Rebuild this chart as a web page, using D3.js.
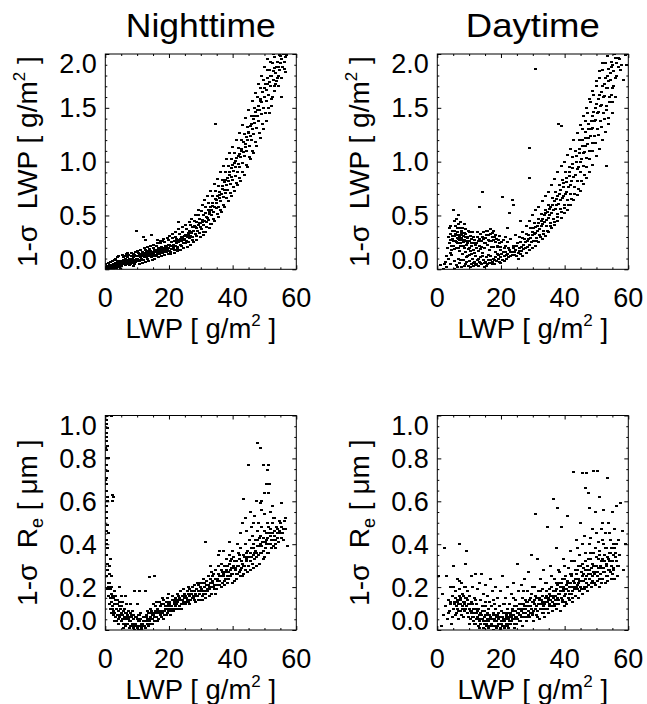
<!DOCTYPE html>
<html><head><meta charset="utf-8">
<script src="https://cdn.jsdelivr.net/npm/d3@7"></script>
<style>
body{margin:0;background:#fff}
svg{display:block}
text{font-family:"Liberation Sans",Arial,Helvetica,sans-serif;fill:#000}
</style></head><body>
<svg id="c" width="647" height="704"></svg>
<script>
// ---- data (x = LWP [g/m2], y = 1-sigma uncertainty) ----
const xTicks = [0, 20, 40, 60];
const lwpTicks = [0.0, 0.5, 1.0, 1.5, 2.0];
const reTicks = [0.0, 0.2, 0.4, 0.6, 0.8, 1.0];
const titles = ["Nighttime", "Daytime"];

const nightLwpPts = [
[0.3,0.0],[0.5,0.02],[0.8,-0.01],[1.0,0.01],[1.2,0.03],[1.5,0.0],[1.7,0.02],[2.0,0.04],[2.2,0.01],[2.4,0.03],[2.7,0.05],[2.9,0.02],[3.1,0.04],[3.3,0.06],[3.6,0.03],[3.8,0.05],[4.0,0.07],[4.2,0.04],[4.5,0.06],[4.7,0.08],[4.9,0.05],
[5.1,0.07],[5.3,0.05],[5.6,0.09],[5.8,0.06],[6.0,0.08],[6.2,0.1],[6.5,0.07],[6.7,0.09],[7.0,0.11],[7.2,0.08],[7.5,0.1],[7.7,0.07],[8.0,0.09],[8.2,0.12],[8.5,0.1],[8.7,0.08],[9.0,0.11],[9.3,0.13],[9.5,0.09],[9.8,0.12],[9.9,0.36],
[10.0,0.1],[10.3,0.12],[10.5,0.09],[10.8,0.13],[11.0,0.11],[11.3,0.14],[11.5,0.1],[11.8,0.12],[12.0,0.15],[12.3,0.11],[12.5,0.13],[12.8,0.16],[13.0,0.12],[13.3,0.14],[13.5,0.17],[13.8,0.13],[14.0,0.15],[14.3,0.12],[14.5,0.16],[14.8,0.14],[11.9,0.3],[14.6,0.32],[12.5,0.27],
[15.0,0.15],[15.3,0.17],[15.5,0.13],[15.8,0.16],[16.0,0.18],[16.3,0.15],[16.5,0.17],[16.8,0.2],[17.0,0.16],[17.3,0.18],[17.5,0.21],[17.8,0.17],[18.0,0.19],[18.3,0.16],[18.5,0.2],[18.8,0.22],[19.0,0.18],[19.3,0.21],[19.5,0.19],[19.8,0.23],[16.5,0.27],[18.0,0.26],
[20.0,0.2],[20.3,0.17],[20.5,0.22],[20.8,0.25],[21.0,0.19],[21.3,0.23],[21.5,0.21],[21.8,0.26],[22.0,0.22],[22.3,0.24],[22.5,0.28],[22.8,0.21],[23.0,0.25],[23.3,0.27],[23.5,0.23],[23.8,0.3],[24.0,0.26],[24.3,0.29],[24.5,0.24],[24.8,0.31],[22.9,0.44],
[25.0,0.28],[25.3,0.32],[25.5,0.26],[25.8,0.3],[26.0,0.34],[26.3,0.29],[26.5,0.36],[26.8,0.31],[27.0,0.34],[27.3,0.39],[27.5,0.3],[27.8,0.36],[28.0,0.4],[28.3,0.33],[28.5,0.38],[28.8,0.44],[29.0,0.36],[29.3,0.41],[29.5,0.47],[29.8,0.39],
[30.0,0.43],[30.3,0.37],[30.5,0.46],[30.8,0.5],[31.0,0.41],[31.3,0.45],[31.5,0.52],[31.8,0.44],[32.0,0.48],[32.3,0.55],[32.5,0.46],[32.8,0.51],[33.0,0.58],[33.3,0.5],[33.5,0.55],[33.8,0.62],[34.0,0.53],[34.3,0.58],[34.5,0.65],[34.8,0.57],[34.7,1.35],
[35.0,0.62],[35.3,0.68],[35.5,0.58],[35.8,0.66],[36.0,0.72],[36.3,0.63],[36.5,0.7],[36.8,0.77],[37.0,0.67],[37.3,0.74],[37.5,0.81],[37.8,0.71],[38.0,0.78],[38.3,0.85],[38.5,0.74],[38.8,0.82],[39.0,0.9],[39.3,0.79],[39.5,0.86],[39.8,0.94],
[40.0,0.83],[40.3,0.91],[40.5,0.99],[40.8,0.87],[41.0,0.95],[41.3,1.03],[41.5,0.9],[41.8,0.98],[42.0,1.07],[42.3,0.95],[42.5,1.04],[42.8,1.12],[43.0,0.99],[43.3,1.09],[43.5,1.18],[43.8,1.05],[44.0,1.14],[44.3,1.23],[44.5,1.1],[44.8,1.2],
[45.0,1.28],[45.2,1.15],[45.5,1.24],[45.7,1.33],[46.0,1.2],[46.2,1.3],[46.5,1.4],[46.7,1.26],[47.0,1.36],[47.2,1.46],[47.5,1.31],[47.7,1.42],[48.0,1.52],[48.2,1.38],[48.5,1.48],[48.7,1.58],[49.0,1.44],[49.2,1.55],[49.5,1.65],[49.7,1.5],
[50.0,1.6],[50.2,1.72],[50.5,1.56],[50.7,1.67],[51.0,1.78],[51.2,1.62],[51.5,1.74],[51.7,1.85],[52.0,1.7],[52.3,1.8],[52.5,1.92],[52.8,1.76],[53.0,1.87],[53.3,1.97],[53.5,1.82],[54.0,1.93],[54.5,1.88],[55.0,1.98],[55.5,1.95],[56.0,2.0],[56.5,1.97],[55.3,1.6],[56.6,1.83],
[0.6,0.03],[1.1,-0.01],[1.4,0.04],[1.9,0.01],[2.6,0.0],[3.4,0.02],[3.9,0.08],[4.4,0.02],[5.2,0.03],[5.7,0.11],[6.3,0.04],[6.9,0.06],[7.4,0.13],[7.9,0.05],[8.4,0.07],[8.9,0.14],[9.6,0.07],[10.4,0.15],[10.9,0.08],[11.6,0.16],[12.1,0.09],[12.7,0.18],[13.2,0.1],[13.9,0.19],[14.4,0.11],[15.1,0.2],[15.7,0.12],[16.2,0.22],[16.9,0.14],[17.4,0.24],[18.1,0.15],[18.6,0.25],[19.2,0.16],[19.7,0.27],[20.4,0.16],[21.1,0.29],[21.6,0.18],[22.1,0.3],[22.7,0.19],[23.2,0.33],[23.9,0.22],[24.4,0.35],[25.1,0.24],[25.6,0.37],[26.2,0.25],[26.9,0.41],[27.4,0.27],[28.1,0.45],[28.6,0.31],[29.2,0.5],[29.7,0.34],[30.2,0.54],[30.9,0.35],[31.4,0.58],[31.9,0.39],[32.4,0.62],[33.1,0.42],[33.6,0.68],[34.1,0.47],[34.6,0.73],[35.2,0.51],[35.7,0.77],[36.2,0.55],[36.7,0.83],[37.2,0.6],[37.7,0.9],[38.2,0.66],[38.7,0.96],[39.2,0.71],[39.7,1.02],[40.2,0.76],[40.7,1.08],[41.2,0.8],[41.7,1.13],[42.2,0.85],[42.7,1.2],[43.2,0.9],[43.7,1.26],[44.2,0.97],[44.7,1.32],[45.3,1.04],[45.8,1.42],[46.3,1.1],[46.8,1.5],[47.3,1.18],[47.8,1.6],[48.3,1.27],[48.8,1.68],[49.3,1.35],[49.8,1.76],[50.3,1.45],[50.8,1.85],[51.3,1.5],[51.8,1.93],[52.3,1.58],[52.8,2.0],[53.3,1.66],[53.8,1.75],[54.3,1.8],[54.8,1.85],[55.6,1.88],[56.2,1.93],[57.0,1.99],[54.6,1.99],
[1.3,0.02],[2.1,0.03],[3.0,0.05],[3.5,0.01],[4.6,0.04],[5.4,0.06],[6.1,0.09],[6.6,0.05],[7.3,0.07],[8.1,0.1],[8.6,0.06],[9.1,0.09],[9.7,0.1],[10.2,0.08],[11.1,0.13],[11.4,0.09],[12.2,0.14],[12.9,0.11],[13.6,0.12],[14.1,0.17],[14.9,0.12],[15.4,0.18],[16.1,0.13],[16.6,0.19],[17.1,0.15],[17.6,0.19],[18.4,0.18],[19.1,0.2],[19.6,0.17],[20.1,0.23],[20.7,0.19],[21.4,0.2],[22.4,0.26],[23.6,0.28],[24.6,0.27],
[0.2,0.05],[0.9,0.06],[1.6,0.07],[2.3,0.08],[2.8,0.09],[3.2,0.1],[3.7,0.11],[4.3,0.12],[4.8,0.0],[5.5,0.13],[6.4,0.12],[6.8,0.14],[7.6,0.04],[7.1,0.15],[8.3,0.15],[8.8,0.03],[9.4,0.16],[9.2,0.05],[10.1,0.17],[10.6,0.05],[11.2,0.18],[11.7,0.06],[12.4,0.2],[12.6,0.07],[13.1,0.21],[13.7,0.08],[14.2,0.22],[14.7,0.09],[15.2,0.23],[15.6,0.1],[16.4,0.24],[16.7,0.11],[17.2,0.26],[17.7,0.12],[18.2,0.28],[18.7,0.13],[19.4,0.29],[19.9,0.14],[20.2,0.31],[20.6,0.14],[21.2,0.33],[21.7,0.15],[22.2,0.35],[22.6,0.17],[23.1,0.37],[23.7,0.18],[24.1,0.39],[24.7,0.2],[25.2,0.41],[25.7,0.21],[26.4,0.44],[26.7,0.23],[27.1,0.47],[27.6,0.25],[28.2,0.5],[28.7,0.27],[29.4,0.55],[29.9,0.3],[30.4,0.6],[30.7,0.32],[31.2,0.64],[31.6,0.35],[32.1,0.68],[32.7,0.38],[33.2,0.73],[33.4,0.42],[34.2,0.79],[34.4,0.45],[35.1,0.84],[35.6,0.49],[36.1,0.9],[36.6,0.53],[37.1,0.96],[37.6,0.58],[38.1,1.02],[38.6,0.63],[39.1,1.08],[39.6,0.68],[40.1,1.14],[40.6,0.73],[41.1,1.2],[41.6,0.78],[42.1,1.27],[42.6,0.82],[43.1,1.34],[43.6,0.88],[44.1,1.41],[44.6,0.95],[45.1,1.48],[45.6,1.02],[46.1,1.56],[46.6,1.08],[47.1,1.64],[47.6,1.15],[48.1,1.72],[48.6,1.22],[49.1,1.8],[49.6,1.3],[50.1,1.88],[50.6,1.38],[51.1,1.95],[51.6,1.45],[52.1,1.52],[52.6,1.6],[53.1,1.7],[53.6,1.72],[54.1,1.78],[54.4,1.7],[55.4,1.78],[56.4,1.86],
[26.1,0.32],[27.2,0.35],[28.4,0.39],[29.6,0.43],[30.6,0.44],[31.7,0.49],[32.6,0.53],[33.7,0.59],[34.9,0.64],[35.9,0.69],[36.9,0.75],[37.9,0.83],[38.9,0.88],[39.9,0.97],[40.9,1.01],[41.9,1.05],[42.9,1.1],[43.9,1.16],[44.9,1.27],[45.9,1.35],[46.9,1.42],[47.9,1.48],[48.9,1.56],[49.9,1.68],[50.9,1.72],[51.9,1.8],[52.9,1.84],[53.9,1.88],[54.9,1.92]
];

const dayLwpPts = [
[0.9,0.04],[1.8,0.0],[2.5,0.07],[3.0,0.02],[3.5,0.1],[4.2,0.05],[4.5,0.13],
[3.6,0.3],[3.9,0.24],[4.2,0.33],[4.4,0.18],[4.7,0.28],[4.9,0.36],[5.0,0.55],[5.2,0.22],[5.4,0.31],[5.6,0.26],[5.8,0.4],[5.9,0.2],[6.1,0.47],[6.2,0.29],[6.4,0.35],[6.5,0.24],[6.7,0.5],[6.8,0.32],[6.9,0.17],[7.1,0.27],[7.2,0.44],[7.4,0.22],[7.5,0.34],[7.7,0.29],[7.8,0.14],[8.0,0.38],[8.1,0.25],[8.3,0.31],[8.4,0.2],[8.6,0.42],[8.7,0.27],[8.9,0.16],[9.0,0.33],[9.2,0.23],[9.4,0.29],[9.5,0.12],[9.7,0.36],[9.9,0.19],
[10.1,0.26],[10.4,0.31],[10.6,0.14],[10.9,0.22],[11.2,0.35],[11.5,0.18],[11.8,0.27],[12.1,0.12],[12.4,0.24],[12.7,0.3],[13.0,0.17],[13.2,0.58],[13.4,0.22],[13.7,0.33],[14.0,0.26],[14.1,0.72],[14.3,0.15],[14.6,0.35],[14.9,0.2],[15.2,0.29],[15.5,0.36],[15.8,0.23],[16.1,0.32],[16.4,0.18],[16.7,0.37],[17.0,0.26],[17.3,0.34],[17.6,0.21],[17.9,0.3],[18.2,0.16],[18.6,0.28],[19.0,0.22],[19.4,0.31],[19.8,0.18],[20.5,0.67],[20.3,0.25],[21.0,0.2],[22.0,0.38],[22.8,0.52],[23.6,0.64],[23.8,0.6],[28.9,1.13],[28.9,0.85],[30.7,1.86],
[5.5,0.08],[6.0,0.04],[6.6,0.1],[7.0,0.06],[7.6,0.02],[8.2,0.09],[8.8,0.05],[9.3,0.11],[9.8,0.03],[10.2,0.08],[10.7,0.05],[11.0,0.1],[11.4,0.03],[11.7,0.07],[12.0,0.12],[12.3,0.05],[12.6,0.09],[13.0,0.03],[13.3,0.07],[13.6,0.11],[14.0,0.05],[14.4,0.09],[14.7,0.02],[15.0,0.07],[15.4,0.11],[15.7,0.05],[16.0,0.09],[16.4,0.06],[16.8,0.12],[17.2,0.07],[17.5,0.1],[17.9,0.05],[18.3,0.11],[18.7,0.08],[19.1,0.13],[19.5,0.07],[19.9,0.11],
[20.2,0.14],[20.6,0.09],[21.0,0.12],[21.4,0.16],[21.8,0.1],[22.2,0.14],[22.6,0.18],[23.0,0.12],[23.4,0.16],[23.8,0.2],[24.2,0.13],[24.6,0.18],[25.0,0.22],[25.4,0.15],[25.8,0.2],[26.2,0.25],[26.6,0.17],[27.0,0.23],[27.4,0.28],[27.8,0.2],[28.2,0.26],[28.6,0.32],[29.0,0.23],[29.4,0.29],[29.8,0.35],
[30.1,0.26],[30.4,0.33],[30.8,0.39],[31.1,0.29],[31.5,0.36],[31.9,0.43],[32.2,0.32],[32.6,0.4],[33.0,0.47],[33.3,0.36],[33.7,0.44],[34.1,0.52],[34.4,0.4],[34.8,0.48],[35.2,0.56],[35.5,0.43],[35.9,0.52],[36.3,0.6],[36.6,0.47],[37.0,0.56],[37.4,0.65],[37.7,0.51],[38.1,0.61],[38.5,0.7],[38.8,0.56],[39.2,0.66],[39.6,0.76],[39.9,0.6],[38.2,1.35],[39.0,1.33],
[40.2,0.7],[40.5,0.81],[40.9,0.64],[41.2,0.76],[41.6,0.87],[41.9,0.7],[42.3,0.82],[42.6,0.94],[43.0,0.76],[43.3,0.88],[43.7,1.0],[44.0,0.82],[44.4,0.95],[44.7,1.08],[45.0,0.9],[45.3,1.02],[45.6,1.15],[45.9,0.96],[46.2,1.09],[46.5,1.22],[46.8,1.03],[47.1,1.16],[47.4,1.3],[47.7,1.1],[48.0,1.24],[48.3,1.38],[48.6,1.17],[48.9,1.31],[49.2,1.46],[49.5,1.24],[49.8,1.39],
[50.1,1.54],[50.4,1.3],[50.7,1.46],[51.0,1.62],[51.3,1.38],[51.6,1.53],[51.9,1.7],[52.2,1.45],[52.5,1.61],[52.8,1.78],[53.1,1.52],[53.4,1.68],[53.7,1.86],[54.0,1.6],[54.3,1.76],[54.6,1.93],[54.9,1.68],[55.2,1.84],[55.6,2.0],[56.0,1.78],[56.4,1.92],[57.0,1.96],[57.5,1.85],[58.4,1.76],[59.2,1.99],[53.2,0.96],[53.7,1.41],[55.0,1.55],
[5.3,0.0],[6.3,0.02],[7.3,0.09],[8.5,0.03],[9.1,0.07],[10.0,0.13],[10.5,0.02],[11.3,0.06],[11.9,0.04],[12.9,0.1],[13.5,0.06],[14.2,0.12],[14.9,0.06],[15.6,0.03],[16.2,0.13],[16.6,0.09],[17.4,0.05],[18.1,0.09],[18.9,0.14],[19.3,0.1],[20.0,0.06],[20.8,0.16],[21.2,0.08],[21.7,0.13],[22.4,0.11],[22.9,0.16],[23.6,0.13],[24.0,0.22],[24.4,0.16],[24.9,0.12],[25.3,0.24],[25.7,0.17],[26.0,0.14],[26.4,0.21],[26.8,0.29],[27.2,0.19],[27.6,0.25],[28.0,0.33],[28.4,0.21],[28.8,0.28],[29.2,0.38],[29.6,0.25],[30.0,0.32],[30.6,0.43],[31.0,0.34],[31.3,0.26],[31.7,0.47],[32.0,0.37],[32.4,0.3],[32.8,0.51],[33.2,0.42],[33.5,0.33],[33.9,0.55],[34.3,0.46],[34.6,0.36],[35.0,0.6],[35.4,0.5],[35.7,0.4],[36.1,0.66],[36.5,0.55],[36.8,0.44],[37.2,0.72],[37.6,0.6],[37.9,0.49],[38.3,0.78],[38.7,0.64],[39.0,0.53],[39.4,0.83],[39.8,0.68],[40.0,0.57],[40.4,0.9],[40.7,0.72],[41.1,0.6],[41.4,0.95],[41.8,0.78],[42.1,0.65],[42.5,1.04],[42.8,0.86],[43.2,0.7],[43.5,1.1],[43.9,0.93],[44.2,0.75],[44.6,1.2],[44.9,1.0],[45.2,0.82],[45.5,1.3],[45.8,1.08],[46.1,0.88],[46.4,1.38],[46.7,1.15],[47.0,0.95],[47.3,1.45],[47.6,1.22],[47.9,1.02],[48.2,1.55],[48.5,1.3],[48.8,1.1],[49.1,1.62],[49.4,1.38],[49.7,1.17],[50.0,1.7],[50.3,1.45],[50.6,1.25],[50.9,1.78],[51.2,1.52],[51.5,1.32],[51.8,1.85],[52.1,1.6],[52.4,1.4],[52.7,1.92],[53.0,1.68],[53.3,1.48],[53.6,1.98],[53.9,1.75],[54.2,1.55],[54.5,1.82],[54.8,1.62],[55.1,1.9],[55.5,1.7],[55.9,1.96],[56.3,1.8],[56.8,1.88],[57.3,1.95],[58.0,1.9],[59.5,1.9],
[4.0,0.27],[4.6,0.22],[5.1,0.26],[5.5,0.19],[5.7,0.33],[6.0,0.25],[6.3,0.38],[6.6,0.28],[7.0,0.3],[7.3,0.24],[7.6,0.36],[7.9,0.27],[8.2,0.22],[8.5,0.34],[8.8,0.3],[9.1,0.26],[9.6,0.24],[10.0,0.2],[10.3,0.17],[10.8,0.28],[11.3,0.24],[11.7,0.15],[12.3,0.2],[12.9,0.26],[13.5,0.19],[14.2,0.3],[14.8,0.24],[15.4,0.32],[16.0,0.27],[16.6,0.33],[17.2,0.3],[17.8,0.36],[18.4,0.25],[19.2,0.27],[20.0,0.21],[21.5,0.3],[22.5,0.2],[24.5,0.32],[26.0,0.45],[3.8,0.38],[5.4,0.45],[6.8,0.42],
[25.6,0.1],[26.9,0.12],[27.9,0.15],[28.9,0.18],[29.9,0.2],[30.9,0.22],[31.9,0.25],[32.9,0.28],[33.9,0.31],[34.9,0.35],[35.9,0.38],[36.9,0.41],[37.9,0.45],[38.9,0.48],[39.9,0.52],[40.9,0.55],[41.9,0.6],[42.9,0.64],[43.9,0.69],[44.9,0.73],[45.9,0.79],[46.9,0.85],[47.9,0.9],[48.9,0.97],[49.9,1.05],[50.9,1.12],[51.9,1.2],[52.9,1.28],[53.9,1.35],[54.9,1.45],[55.9,1.6],[25.9,0.3],[26.9,0.35],[27.9,0.4],[28.9,0.45],[29.9,0.5],[30.9,0.55],[31.9,0.58],[32.9,0.63],[33.9,0.68],[34.9,0.72],[35.9,0.78],[36.9,0.84],[37.9,0.9],[38.9,0.96],[39.9,1.0],[40.9,1.06],[41.9,1.12],[42.9,1.2],[43.9,1.27],[44.9,1.34],[45.9,1.42],[46.9,1.5],[47.9,1.58],[48.9,1.66],[49.9,1.75],[50.9,1.84],[51.9,1.92],
[30.3,0.38],[31.6,0.4],[32.7,0.45],[33.6,0.5],[34.7,0.53],[35.6,0.58],[36.7,0.63],[37.7,0.68],[38.6,0.74],[39.7,0.8],[40.6,0.85],[41.6,0.9],[42.6,0.98],[43.6,1.05],[44.6,1.12],[45.6,1.2],[46.6,1.28],[47.6,1.35],[48.6,1.42],[49.6,1.5],[50.6,1.58],[51.6,1.65],[52.6,1.72],[53.6,1.8],[54.6,1.88],
[4.3,0.4],[4.9,0.31],[5.5,0.36],[6.0,0.32],[6.6,0.2],[7.1,0.38],[7.7,0.32],[8.3,0.26],[8.9,0.37],[9.5,0.3],[10.2,0.35],[10.7,0.24],[11.4,0.3],[12.0,0.23],[12.7,0.35],[13.3,0.28],[14.0,0.21],[14.6,0.28],[15.2,0.24],[15.9,0.36],[16.4,0.26],[17.0,0.21],[17.6,0.27],[18.2,0.32],[18.9,0.21],[19.6,0.24],[20.8,0.27],[21.4,0.22],[22.2,0.25],[23.0,0.28],[3.3,0.2],[4.0,0.15],[2.8,0.12],[2.2,0.05]
];

const nightRePts = [
[0.4,1.0],[0.5,0.98],[0.3,0.96],[0.6,0.94],[0.4,0.92],[0.5,0.9],[0.3,0.88],[0.6,0.86],[0.4,0.84],[0.5,0.8],[0.3,0.77],[0.6,0.74],[0.4,0.71],[0.5,0.68],[0.3,0.65],[0.6,0.62],[0.4,0.58],[0.5,0.55],[0.3,0.52],[0.6,0.49],[0.4,0.46],[0.5,0.42],[0.7,0.38],[0.4,0.35],[0.6,0.31],[0.8,0.28],[0.5,0.25],[0.9,0.22],[0.7,0.19],[1.0,0.16],[1.8,1.0],[2.3,0.63],[2.4,0.6],[2.6,0.62],[1.5,0.33],[1.2,0.3],
[1.2,0.26],[1.4,0.22],[1.6,0.19],[1.5,0.15],[1.8,0.17],[2.0,0.13],[2.1,0.2],[2.3,0.11],[2.5,0.15],[2.6,0.09],[2.8,0.12],[3.0,0.08],[3.1,0.14],[3.3,0.06],[3.5,0.1],[3.7,0.07],[3.9,0.12],[4.1,0.05],[4.3,0.09],[4.6,0.06],[4.8,0.1],[4.6,0.2],
[5.0,0.04],[5.3,0.07],[5.6,0.03],[5.9,0.06],[6.2,0.02],[6.5,0.05],[6.8,0.08],[7.1,0.03],[7.4,0.06],[7.7,0.01],[8.0,0.04],[8.3,0.07],[8.6,0.02],[8.9,0.05],[9.2,0.0],[9.5,0.03],[9.8,0.06],[10.1,0.01],[10.4,0.04],[10.7,0.02],[11.0,0.05],[11.3,0.01],[11.6,0.03],[11.9,0.06],[12.2,0.02],[12.5,0.04],[12.8,0.07],[13.1,0.03],[13.4,0.05],[13.7,0.08],[14.0,0.04],[14.3,0.06],[14.6,0.09],[14.9,0.05],
[5.0,0.16],[6.5,0.16],[9.3,0.18],[10.9,0.18],[12.5,0.18],[14.0,0.245],[15.3,0.25],[8.0,0.12],[10.0,0.12],
[15.2,0.07],[15.5,0.04],[15.8,0.09],[16.1,0.06],[16.4,0.1],[16.7,0.05],[17.0,0.08],[17.3,0.11],[17.6,0.06],[17.9,0.09],[18.2,0.12],[18.5,0.07],[18.8,0.1],[19.1,0.13],[19.4,0.08],[19.7,0.11],[20.0,0.09],[20.3,0.13],[20.6,0.07],[20.9,0.11],[21.2,0.14],[21.5,0.09],[21.8,0.12],[22.1,0.15],[22.4,0.1],[22.7,0.13],[23.0,0.16],[23.3,0.11],[23.6,0.14],[23.9,0.12],[24.2,0.16],[24.5,0.13],[24.8,0.17],[18.0,0.15],[20.0,0.17],
[25.1,0.12],[25.4,0.15],[25.7,0.18],[26.0,0.13],[26.3,0.16],[26.6,0.19],[26.9,0.14],[27.2,0.17],[27.5,0.2],[27.8,0.15],[28.1,0.18],[28.4,0.13],[28.7,0.19],[29.0,0.16],[29.3,0.21],[29.6,0.17],[29.9,0.14],[30.2,0.19],[30.5,0.22],[30.8,0.17],[31.1,0.2],[31.4,0.15],[31.7,0.23],[32.0,0.18],[32.3,0.21],[32.6,0.19],[32.9,0.24],[33.2,0.2],[33.5,0.17],[33.8,0.23],[34.1,0.26],[34.4,0.21],[34.7,0.24],[31.5,0.41],[33.0,0.3],[35.5,0.35],
[35.0,0.19],[35.3,0.23],[35.6,0.26],[35.9,0.21],[36.2,0.25],[36.5,0.28],[36.8,0.22],[37.1,0.26],[37.4,0.3],[37.7,0.24],[38.0,0.28],[38.3,0.22],[38.6,0.27],[38.9,0.31],[39.2,0.25],[39.5,0.29],[39.8,0.33],[40.1,0.26],[40.4,0.3],[40.7,0.23],[41.0,0.28],[41.3,0.32],[41.6,0.26],[41.9,0.3],[42.2,0.35],[42.5,0.28],[42.8,0.32],[43.1,0.25],[43.4,0.3],[43.7,0.34],[44.0,0.28],[44.3,0.32],[44.6,0.37],[44.9,0.3],[37.0,0.37],[40.0,0.37],[42.5,0.45],[43.0,0.5],[44.0,0.52],[43.4,0.61],[44.9,0.77],
[45.2,0.34],[45.5,0.28],[45.8,0.38],[46.1,0.31],[46.4,0.35],[46.7,0.4],[47.0,0.33],[47.3,0.37],[47.6,0.3],[47.9,0.42],[48.2,0.35],[48.5,0.39],[48.8,0.44],[49.1,0.36],[49.4,0.41],[49.7,0.33],[50.0,0.46],[50.3,0.38],[50.6,0.42],[50.9,0.36],[51.2,0.48],[51.5,0.4],[51.8,0.44],[52.1,0.38],[52.4,0.5],[52.7,0.42],[53.0,0.46],[53.4,0.4],[53.8,0.48],[54.2,0.43],[54.6,0.51],[55.0,0.45],[55.5,0.48],[56.0,0.42],[56.6,0.52],[57.2,0.39],
[46.0,0.48],[47.0,0.53],[48.0,0.5],[49.0,0.56],[50.0,0.54],[47.9,0.87],[48.9,0.85],[49.6,0.77],[51.2,0.77],[51.0,0.745],[50.5,0.68],[51.5,0.68],[50.0,0.64],[51.2,0.64],[47.5,0.6],[48.6,0.59],[45.5,0.55],[52.6,0.58],[55.2,0.59],
[1.0,0.45],[0.8,0.6],[0.9,0.8],[0.2,0.7],[0.2,0.85],[0.3,0.4],[1.1,0.2],[1.3,0.12],[1.7,0.1],[2.2,0.16],[2.7,0.07],[2.9,0.18],[3.4,0.12],[3.6,0.04],[4.0,0.09],[4.4,0.13],[4.9,0.07],[5.2,0.11],[5.5,0.05],[5.8,0.09],[6.3,0.06],[6.7,0.03],[7.0,0.07],[7.5,0.04],[7.9,0.08],[8.4,0.03],[8.8,0.01],[9.0,0.07],[9.6,0.02],[10.0,0.05],[10.5,0.0],[10.9,0.07],[11.4,0.03],[11.8,0.02],[12.3,0.06],[12.9,0.04],[13.3,0.09],[13.8,0.05],[14.2,0.1],[14.7,0.07],[15.0,0.12],[15.6,0.08],[16.0,0.13],[16.5,0.08],[17.1,0.13],[17.5,0.09],[18.0,0.08],[18.4,0.14],[18.9,0.11],[19.5,0.15],[19.9,0.12],[20.5,0.1],[21.0,0.16],[21.6,0.13],[22.0,0.11],[22.6,0.17],[23.1,0.14],[23.7,0.18],[24.1,0.14],[24.6,0.19],[25.2,0.16],[25.8,0.14],[26.2,0.2],[26.8,0.17],[27.3,0.15],[27.9,0.21],[28.3,0.17],[28.9,0.22],[29.4,0.18],[29.8,0.2],[30.4,0.16],[30.9,0.24],[31.3,0.18],[31.8,0.21],[32.4,0.25],[32.8,0.2],[33.3,0.27],[33.7,0.22],[34.2,0.19],[34.6,0.28],[35.1,0.24],[35.6,0.3],[36.0,0.23],[36.6,0.31],[37.0,0.25],[37.5,0.21],[38.1,0.33],[38.5,0.25],[39.0,0.35],[39.4,0.28],[39.9,0.22],[40.3,0.34],[40.8,0.29],[41.2,0.24],[41.7,0.36],[42.1,0.27],[42.6,0.38],[43.0,0.31],[43.5,0.26],[43.9,0.4],[44.4,0.33],[44.8,0.27],[45.3,0.42],[45.7,0.32],[46.2,0.44],[46.6,0.29],[47.1,0.42],[47.5,0.36],[47.9,0.46],[48.4,0.31],[48.8,0.4],[49.2,0.48],[49.6,0.37],[50.1,0.34],[50.5,0.45],[50.9,0.5],[51.4,0.36],[51.8,0.47],[52.2,0.42],[52.7,0.52],[53.2,0.44],[53.6,0.38],[54.0,0.47],[54.4,0.41],[54.9,0.5],[55.4,0.43],[55.9,0.47],[56.3,0.51],[52.0,0.55],[53.0,0.52],[49.0,0.6],[46.5,0.5],[44.5,0.46],[41.5,0.4],[39.0,0.41],[36.0,0.37],
[1.9,0.25],[2.0,0.08],[2.4,0.1],[2.9,0.04],[3.2,0.16],[3.8,0.14],[4.2,0.03],[4.5,0.11],[5.1,0.08],[5.4,0.13],[5.7,0.01],[6.0,0.1],[6.4,0.08],[6.6,0.12],[7.2,0.05],[7.3,0.09],[7.8,0.02],[8.2,0.06],[8.5,0.09],[9.1,0.03],[9.4,0.06],[9.9,0.02],[10.3,0.07],[10.8,0.04],[11.2,0.08],[11.5,0.0],[12.0,0.04],[12.6,0.01],[13.0,0.06],[13.5,0.02],[14.1,0.03],[14.4,0.08],[14.8,0.03],[15.4,0.06],[15.9,0.11],[16.3,0.04],[16.8,0.09],[17.4,0.07],[17.8,0.12],[18.3,0.05],[18.7,0.09],[19.2,0.07],[19.6,0.1],[20.2,0.12],[20.7,0.09],[21.3,0.1],[21.9,0.14],[22.3,0.12],[22.9,0.1],[23.4,0.15],[23.8,0.1],[24.4,0.12],[24.9,0.15],[25.5,0.13],[26.1,0.17],[26.5,0.12],[27.1,0.18],[27.6,0.16],[28.0,0.14],[28.6,0.16],[29.2,0.14],[29.7,0.22],[30.1,0.18],[30.6,0.14],[31.2,0.22],[31.6,0.17],[32.2,0.19],[32.7,0.16],[33.1,0.22],[33.6,0.25],[34.0,0.2],[34.5,0.17],[35.2,0.21],[35.8,0.25],[36.4,0.2],[36.9,0.27],[37.3,0.23],[37.9,0.27],[38.4,0.3],[38.8,0.24],[39.3,0.32],[39.7,0.26],[40.2,0.29],[40.6,0.32],[41.1,0.26],[41.5,0.3],[42.0,0.33],[42.4,0.25],[42.9,0.29],[43.3,0.35],[43.8,0.3],[44.2,0.36],[44.7,0.34],[45.1,0.3],[45.6,0.36],[46.0,0.34],[46.5,0.38],[46.9,0.36],[47.4,0.34],[47.8,0.39],[48.3,0.43],[48.7,0.36],[49.2,0.39],[49.6,0.43],[50.2,0.41],[50.7,0.4],[51.1,0.43],[51.6,0.45],[52.0,0.4],[52.5,0.45],[52.9,0.39],[53.5,0.42],[54.1,0.45],[54.7,0.46],[55.2,0.43],[55.8,0.45],[56.5,0.47]
];

const dayRePts = [
[0.5,0.25],[1.2,0.02],[1.6,0.17],[2.0,0.07],[2.4,0.38],[2.6,0.11],[3.0,0.25],[3.2,0.05],[3.5,0.14],[3.8,0.09],[4.0,0.2],[4.3,0.12],[4.5,0.03],[4.7,0.16],[5.0,0.1],[5.2,0.3],[5.4,0.13],[5.6,0.07],[5.8,0.18],[6.0,0.11],[6.2,0.24],[6.4,0.14],[6.6,0.05],[6.9,0.4],[6.8,0.12],[7.0,0.19],[7.2,0.09],[7.4,0.15],[7.6,0.22],[7.8,0.11],[8.0,0.17],[8.2,0.06],[8.4,0.13],[8.6,0.2],[8.8,0.1],[9.0,0.31],[9.2,0.37],[9.1,0.15],[9.4,0.08],[9.6,0.18],[9.8,0.12],[10.0,0.03],
[10.2,0.16],[10.4,0.09],[10.6,0.25],[10.8,0.13],[11.0,0.06],[11.2,0.2],[11.4,0.1],[11.6,0.03],[11.8,0.15],[12.0,0.26],[12.2,0.08],[12.4,0.12],[12.6,0.19],[12.8,0.05],[13.0,0.1],[13.2,0.22],[13.4,0.01],[13.6,0.14],[13.8,0.07],[14.0,0.26],[14.2,0.11],[14.4,0.17],[14.6,0.04],[14.8,0.09],[15.0,0.21],[15.2,0.13],[15.4,0.02],[15.6,0.07],[15.8,0.16],[16.0,0.1],[16.2,0.04],[16.4,0.13],[16.6,0.24],[16.8,0.06],[17.0,0.11],[17.2,0.18],[17.4,0.02],[17.6,0.08],[17.8,0.14],[18.0,0.05],[18.2,0.2],[18.4,0.1],[18.6,0.01],[18.8,0.07],[19.0,0.15],[19.2,0.03],[19.4,0.11],[19.6,0.06],[19.8,0.18],[19.9,0.0],
[20.1,0.09],[20.3,0.03],[20.5,0.25],[20.7,0.12],[20.9,0.05],[21.1,0.01],[21.3,0.08],[21.5,0.15],[21.7,0.03],[21.9,0.1],[22.1,0.2],[22.3,0.05],[22.5,0.01],[22.7,0.12],[22.9,0.07],[23.1,0.03],[23.3,0.17],[23.5,0.09],[23.7,0.05],[23.9,0.22],[24.1,0.01],[24.3,0.11],[24.5,0.06],[24.7,0.14],[24.9,0.03],[25.1,0.31],[25.3,0.08],[25.5,0.18],[25.7,0.04],[25.9,0.12],[26.1,0.07],[26.3,0.21],[26.5,0.1],[26.7,0.02],[26.9,0.15],[27.1,0.06],[27.3,0.11],[27.5,0.24],[27.7,0.08],[27.9,0.13],[28.1,0.04],[28.3,0.18],[28.5,0.09],[28.7,0.27],[28.9,0.14],[29.1,0.06],[29.3,0.11],[29.5,0.35],[29.7,0.17],[29.9,0.08],
[30.1,0.13],[30.3,0.04],[30.5,0.2],[30.7,0.1],[30.9,0.54],[31.1,0.15],[31.3,0.07],[31.5,0.33],[31.7,0.12],[31.9,0.18],[32.1,0.05],[32.3,0.1],[32.5,0.24],[32.7,0.14],[32.9,0.08],[33.1,0.19],[33.3,0.11],[33.5,0.28],[33.7,0.06],[33.9,0.15],[34.1,0.1],[34.3,0.22],[34.5,0.48],[34.7,0.13],[34.9,0.08],[35.1,0.17],[35.3,0.11],[35.5,0.3],[35.7,0.14],[35.9,0.2],[36.1,0.09],[36.3,0.16],[36.5,0.61],[36.7,0.12],[36.9,0.24],[37.1,0.18],[37.3,0.1],[37.5,0.38],[37.8,0.57],[37.7,0.15],[37.9,0.21],[38.1,0.12],[38.3,0.27],[38.5,0.17],[38.7,0.09],[38.9,0.22],[39.1,0.48],[39.3,0.14],[39.5,0.19],[39.7,0.33],[39.9,0.11],
[40.1,0.16],[40.3,0.25],[40.5,0.21],[40.7,0.12],[40.9,0.53],[41.1,0.18],[41.3,0.29],[41.5,0.14],[41.7,0.22],[41.9,0.37],[42.1,0.17],[42.3,0.26],[42.5,0.13],[42.7,0.735],[42.9,0.2],[43.1,0.32],[43.3,0.16],[43.5,0.24],[43.7,0.42],[43.9,0.19],[44.1,0.28],[44.3,0.15],[44.5,0.22],[44.7,0.35],[44.9,0.5],[45.1,0.2],[45.3,0.27],[45.6,0.73],[45.5,0.17],[45.7,0.31],[45.9,0.23],[46.1,0.44],[46.4,0.66],[46.3,0.19],[46.5,0.28],[46.7,0.36],[46.9,0.73],[46.9,0.22],[47.1,0.3],[47.4,0.64],[47.3,0.18],[47.5,0.26],[47.7,0.4],[47.9,0.57],[47.9,0.24],[48.1,0.33],[48.3,0.2],[48.5,0.29],[48.7,0.47],[48.9,0.25],[49.0,0.74],[49.1,0.36],[49.3,0.22],[49.5,0.3],[49.7,0.55],[49.9,0.27],
[50.1,0.34],[50.4,0.74],[50.3,0.23],[50.5,0.41],[50.7,0.29],[50.9,0.62],[50.9,0.2],[51.1,0.37],[51.3,0.26],[51.5,0.47],[51.7,0.32],[51.9,0.24],[52.1,0.4],[52.3,0.56],[52.3,0.29],[52.5,0.35],[52.7,0.22],[52.9,0.45],[53.1,0.3],[53.4,0.71],[53.3,0.38],[53.5,0.25],[53.7,0.5],[53.9,0.33],[54.1,0.28],[54.3,0.42],[54.5,0.36],[54.7,0.24],[54.9,0.55],[55.1,0.32],[55.3,0.4],[55.5,0.28],[55.7,0.47],[55.9,0.34],[56.2,0.58],[56.5,0.3],[56.8,0.42],[57.2,0.35],[57.6,0.59],[58.1,0.46],[58.6,0.28],[59.0,0.4],
[3.4,0.08],[4.1,0.13],[4.8,0.06],[5.3,0.12],[5.7,0.15],[6.1,0.08],[6.5,0.1],[6.9,0.16],[7.3,0.12],[7.7,0.07],[8.1,0.13],[8.5,0.09],[8.9,0.15],[9.3,0.11],[9.7,0.06],[10.1,0.1],[10.5,0.05],[10.9,0.09],[11.3,0.04],[11.7,0.08],[12.1,0.03],[12.5,0.06],[12.9,0.02],[13.3,0.07],[13.7,0.03],[14.1,0.05],[14.5,0.01],[14.9,0.06],[15.3,0.03],[15.7,0.05],[16.1,0.01],[16.5,0.07],[16.9,0.03],[17.3,0.05],[17.7,0.0],[18.1,0.04],[18.5,0.06],[18.9,0.02],[19.3,0.05],[19.7,0.01],[20.2,0.04],[20.6,0.06],[21.0,0.02],[21.4,0.05],[21.8,0.07],[22.2,0.03],[22.6,0.06],[23.0,0.08],[23.4,0.04],[23.8,0.07],[24.2,0.05],[24.6,0.09],[25.0,0.06],[25.4,0.1],[25.8,0.07],[26.2,0.04],[26.6,0.09],[27.0,0.12],[27.4,0.06],[27.8,0.1],[28.2,0.13],[28.6,0.07],[29.0,0.11],[29.4,0.08],[29.8,0.13],[30.2,0.09],[30.6,0.14],[31.0,0.1],[31.4,0.06],[31.8,0.12],[32.2,0.15],[32.6,0.1],[33.0,0.13],[33.4,0.08],[33.8,0.12],[34.2,0.16],[34.6,0.1],[35.0,0.14],[35.4,0.19],[35.8,0.11],[36.2,0.13],[36.6,0.18],[37.0,0.14],[37.4,0.22],[37.8,0.12],[38.2,0.17],[38.6,0.2],[39.0,0.15],[39.4,0.24],[39.8,0.18],[40.2,0.13],[40.6,0.19],[41.0,0.23],[41.4,0.17],[41.8,0.26],[42.2,0.2],[42.6,0.15],[43.0,0.22],[43.4,0.28],[43.8,0.2],[44.2,0.24],[44.6,0.18],[45.0,0.3],[45.4,0.23],[45.8,0.26],[46.2,0.2],[46.6,0.32],[47.0,0.25],[47.4,0.21],[47.8,0.28],[48.2,0.36],[48.6,0.23],[49.0,0.3],[49.4,0.26],[49.8,0.38],[50.2,0.27],[50.6,0.33],[51.0,0.24],[51.4,0.3],[51.8,0.42],[52.2,0.27],[52.6,0.32],[53.0,0.25],[53.4,0.34],[53.8,0.28],[54.2,0.36],[54.6,0.3],[55.0,0.26],[55.4,0.35],[55.8,0.38],[56.2,0.32],[56.6,0.25],[57.0,0.3],[54.0,0.45],[52.0,0.5],[50.0,0.45],[48.0,0.43],[45.5,0.4],[44.0,0.38],[42.0,0.32],[40.0,0.3],[38.0,0.28],[36.0,0.25],[34.0,0.22],[30.0,0.2],[27.0,0.18],[24.0,0.15],[21.0,0.12],[18.0,0.12],[15.0,0.11],[12.0,0.14],[9.0,0.2],[7.0,0.23],[5.0,0.2],
[6.2,0.13],[6.7,0.09],[7.2,0.14],[7.9,0.1],[8.3,0.16],[8.7,0.12],[9.5,0.14],[10.3,0.12],[10.7,0.08],[11.1,0.12],[11.5,0.06],[11.9,0.1],[12.3,0.05],[12.7,0.09],[13.1,0.04],[13.5,0.08],[13.9,0.05],[14.3,0.09],[14.7,0.03],[15.1,0.07],[15.5,0.04],[15.9,0.08],[16.3,0.02],[16.7,0.05],[17.1,0.03],[17.5,0.07],[17.9,0.02],[18.3,0.07],[18.7,0.04],[19.1,0.08],[19.5,0.03],[19.9,0.06],[20.4,0.02],[20.8,0.08],[21.2,0.04],[21.6,0.06],[22.0,0.02],[22.4,0.08],[22.8,0.04],[23.2,0.06],[23.6,0.1],[24.0,0.07],[24.4,0.03],[24.8,0.11],[25.2,0.05],[25.6,0.08],[26.0,0.12],[26.4,0.06],[26.8,0.1],[27.2,0.08],[27.6,0.14],[28.0,0.06],[28.4,0.11],[28.8,0.09],[29.2,0.15],[29.6,0.1],[30.0,0.07],[30.4,0.12],[30.8,0.16],[31.2,0.11],[31.6,0.09],[32.0,0.14],[32.4,0.18],[32.8,0.12],[33.2,0.16],[33.6,0.1],[34.0,0.13],[34.4,0.18],[34.8,0.15],[35.2,0.12],[35.6,0.16],[36.0,0.2],[36.4,0.15],[36.8,0.11],[37.2,0.16],[37.6,0.19],[38.0,0.14],[38.4,0.22],[38.8,0.18],[39.2,0.13],[39.6,0.2],[40.0,0.24],[40.4,0.17],[40.8,0.22],[41.2,0.15],[41.6,0.2],[42.0,0.25],[42.4,0.18],[42.8,0.23],[43.2,0.19],[43.6,0.26],[44.0,0.21],[44.4,0.3],[44.8,0.23],[45.2,0.19],[45.6,0.25],[46.0,0.29],[46.4,0.24],[46.8,0.2],[47.2,0.28],[47.6,0.33],[48.0,0.26],[48.4,0.22],[48.8,0.31],[49.2,0.27],[49.6,0.21],[50.0,0.3],[50.4,0.25],[50.8,0.35],[51.2,0.29],[51.6,0.22],[52.0,0.33],[52.4,0.27],[52.8,0.38],[53.2,0.31],[53.6,0.23],[54.0,0.32],[54.4,0.27],[54.8,0.38],[55.2,0.29],[55.6,0.24],[56.0,0.36],[56.4,0.4]
];

// ---- drawing ----
const svg = d3.select("#c");
const FS_TICK = 27, FS_LAB = 27.5;
const cols = [[105.3, 296.3], [437.3, 628.3]];
const rows = [[54, 269.3], [415.5, 630]];

function addLabel(sel, parts) {
  parts.forEach(p => {
    const t = sel.append("tspan").text(p.t);
    if (p.sup) t.attr("font-size", 17).attr("dy", -12);
    else if (p.sub) t.attr("font-size", 18).attr("dy", 6);
    if (p.back) t.attr("dy", p.back);
  });
}

let clipN = 0;
function panel(col, row, pts, yMax, yMajor, yMinorStep, title, ylab) {
  const [x0, x1] = cols[col], [y0, y1] = rows[row];
  const x = d3.scaleLinear().domain([0, 60]).range([x0, x1]);
  const y = d3.scaleLinear().domain([0, yMax]).range([y1, y0]);
  const g = svg.append("g");
  const id = "clip" + (clipN++);
  g.append("clipPath").attr("id", id).append("rect")
    .attr("x", x0).attr("y", y0).attr("width", x1 - x0).attr("height", y1 - y0);
  g.append("g").attr("clip-path", `url(#${id})`)
    .selectAll("rect").data(pts).join("rect")
    .attr("x", d => Math.round(x(d[0]) - 1.5)).attr("y", d => Math.round(y(d[1]) - 1))
    .attr("width", 3).attr("height", 2).attr("fill", "#000")
    .attr("shape-rendering", "crispEdges");

  const xMinor = d3.range(0, 60.01, 5).filter(v => v % 20 !== 0);
  const yMinor = d3.range(0, yMax + 1e-6, yMinorStep).filter(v => !yMajor.some(m => Math.abs(m - v) < 1e-6));
  const mk = (axisFn, scale, vals, len, tr) =>
    g.append("g").attr("transform", tr)
      .call(axisFn(scale).tickValues(vals).tickSize(-len).tickFormat(""))
      .call(s => s.select(".domain").remove());
  mk(d3.axisBottom, x, xTicks, 4, `translate(0,${y1})`);
  mk(d3.axisBottom, x, xMinor, 2, `translate(0,${y1})`);
  mk(d3.axisTop, x, xTicks, 4, `translate(0,${y0})`);
  mk(d3.axisTop, x, xMinor, 2, `translate(0,${y0})`);
  mk(d3.axisLeft, y, yMajor, 4, `translate(${x0},0)`);
  mk(d3.axisLeft, y, yMinor, 2, `translate(${x0},0)`);
  mk(d3.axisRight, y, yMajor, 4, `translate(${x1},0)`);
  mk(d3.axisRight, y, yMinor, 2, `translate(${x1},0)`);

  g.append("rect").attr("x", x0).attr("y", y0).attr("width", x1 - x0).attr("height", y1 - y0)
    .attr("fill", "none").attr("stroke", "#000").attr("stroke-width", 1);

  g.selectAll(".xl").data(xTicks).join("text")
    .attr("x", d => x(d)).attr("y", y1 + 38).attr("text-anchor", "middle")
    .attr("font-size", FS_TICK).text(d => d);
  const half = 9.5;
  g.selectAll(".yl").data(yMajor).join("text")
    .attr("x", x0 - 8.5)
    .attr("y", d => Math.min(Math.max(y(d), y0 + half), y1 - half) + half)
    .attr("text-anchor", "end").attr("font-size", FS_TICK).text(d => d3.format(".1f")(d));

  const xt = g.append("text").attr("x", (x0 + x1) / 2).attr("y", y1 + 68.5)
    .attr("text-anchor", "middle").attr("font-size", FS_LAB);
  addLabel(xt, [{t: "LWP [ g/m"}, {t: "2", sup: true}, {t: " ]", back: 12}]);

  const cy = (y0 + y1) / 2;
  const yt = g.append("text").attr("transform", `translate(${x0 - 68},${cy}) rotate(-90)`)
    .attr("text-anchor", "middle").attr("font-size", 28).style("white-space", "pre");
  addLabel(yt, ylab);

  if (title) {
    g.append("text").attr("x", (x0 + x1) / 2).attr("y", 37).attr("text-anchor", "middle")
      .attr("font-size", 34).attr("textLength", title === "Nighttime" ? 150 : 134)
      .attr("lengthAdjust", "spacingAndGlyphs").text(title);
  }
}

const ylabLwp = [{t: "1-\u03c3  LWP [ g/m"}, {t: "2", sup: true}, {t: " ]", back: 12}];
const ylabRe = [{t: "1-\u03c3  R"}, {t: "e", sub: true}, {t: " [ \u03bcm ]", back: -6}];

panel(0, 0, nightLwpPts, 2.0, lwpTicks, 0.1, titles[0], ylabLwp);
panel(1, 0, dayLwpPts, 2.0, lwpTicks, 0.1, titles[1], ylabLwp);
panel(0, 1, nightRePts, 1.0, reTicks, 0.05, null, ylabRe);
panel(1, 1, dayRePts, 1.0, reTicks, 0.05, null, ylabRe);
</script>
</body></html>
